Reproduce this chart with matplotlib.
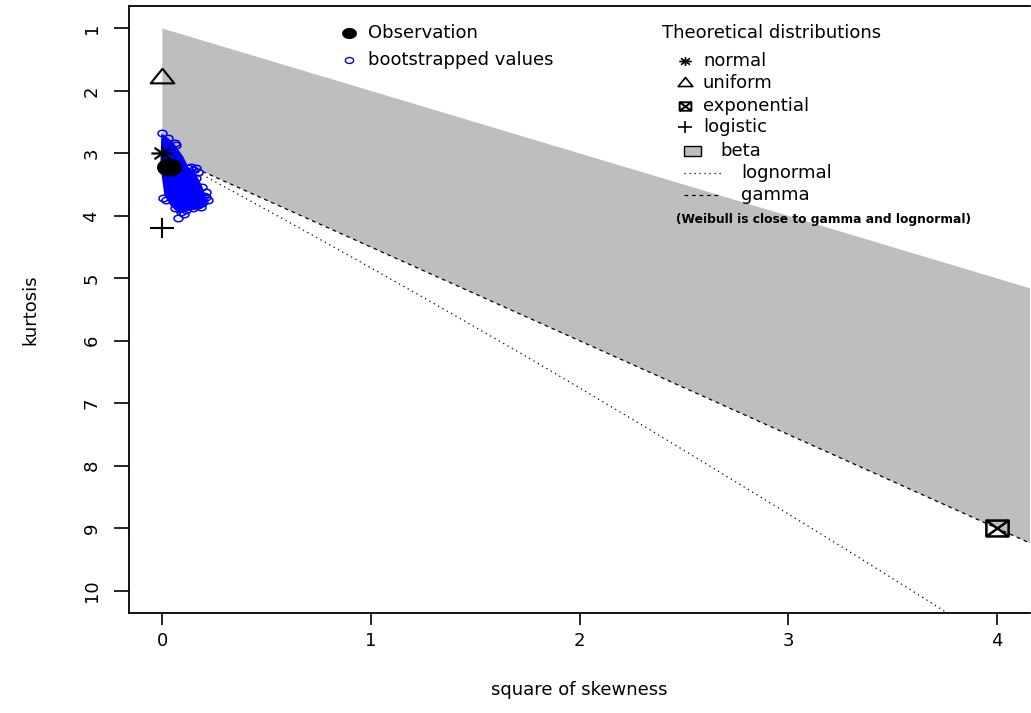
import matplotlib
matplotlib.use("Agg")
import matplotlib.pyplot as plt
import numpy as np
from matplotlib.path import Path
from matplotlib.markers import MarkerStyle
from matplotlib.lines import Line2D
from matplotlib.patches import Rectangle

# ---------------- data (square of skewness, kurtosis) ----------------
obs_x, obs_y = [0.03], [3.22]
normal_x, normal_y = [0.0], [3.0]
uniform_x, uniform_y = [0.0], [1.8]
expo_x, expo_y = [4.0], [9.0]
logis_x, logis_y = [0.0], [4.2]

# beta region (between upper limit and gamma line)
beta_x = [0.0, 4.6, 4.6, 0.0]
beta_y = [1.0, 5.6, 9.9, 3.0]

gamma_x = [0.16, 4.6]
gamma_y = [3.24, 9.9]

lnorm_x = [0.17, 0.229, 0.465, 0.709, 0.961, 1.221, 1.488, 1.764, 2.048,
           2.340, 2.641, 2.950, 3.267, 3.593, 3.928]
lnorm_y = [3.30, 3.41, 3.84, 4.29, 4.76, 5.25, 5.76, 6.29, 6.85,
           7.43, 8.04, 8.67, 9.32, 10.00, 10.71]

# dense part of the bootstrap cloud
cloud_x = [-0.005, 0.03, 0.062, 0.10, 0.125, 0.16, 0.19, 0.215, 0.205, 0.17,
           0.12, 0.08, 0.04, 0.01, -0.01]
cloud_y = [2.68, 2.76, 2.87, 3.05, 3.22, 3.32, 3.52, 3.76, 3.86, 3.90,
           3.92, 3.97, 3.84, 3.68, 3.2]

# scattered bootstrap values on the edge of the cloud
boot_x = [0.0, 0.029, 0.062, 0.067, 0.125, 0.139, 0.149, 0.163, 0.173, 0.163,
          0.188, 0.207, 0.221, 0.197, 0.183, 0.149, 0.115, 0.091, 0.077, 0.062,
          0.019, 0.005, 0.159, 0.139, 0.198, 0.21, 0.17, 0.13, 0.105]
boot_y = [2.67, 2.75, 2.83, 2.87, 3.24, 3.22, 3.27, 3.24, 3.30, 3.39,
          3.54, 3.62, 3.75, 3.78, 3.86, 3.88, 3.91, 3.94, 4.03, 3.88,
          3.75, 3.71, 3.55, 3.46, 3.68, 3.70, 3.82, 3.84, 3.97]

xticks = [0, 1, 2, 3, 4]
yticks = [1, 2, 3, 4, 5, 6, 7, 8, 9, 10]

# ---------------- marker shapes (R pch, slightly wide) ----------------
SQ = 1.4  # horizontal stretch of the original picture

def ellipse_marker():
    t = np.linspace(0, 2 * np.pi, 40)
    return MarkerStyle(Path(np.column_stack([np.cos(t), np.sin(t) / SQ])))

def triangle_marker():
    h = 1.732 / SQ
    v = [(0, 2 * h / 3), (-1, -h / 3), (1, -h / 3), (0, 2 * h / 3)]
    return MarkerStyle(Path(v, [Path.MOVETO, Path.LINETO, Path.LINETO, Path.CLOSEPOLY]))

def star_marker():
    s = 1 / SQ
    d = 0.72
    v = [(-1, 0), (1, 0), (0, -s), (0, s), (-d, -d * s), (d, d * s), (-d, d * s), (d, -d * s)]
    c = [Path.MOVETO, Path.LINETO] * 4
    return MarkerStyle(Path(v, c))

def plus_marker():
    s = 0.87
    v = [(-1, 0), (1, 0), (0, -s), (0, s)]
    return MarkerStyle(Path(v, [Path.MOVETO, Path.LINETO] * 2))

def boxx_marker():
    s = 1 / SQ
    v = [(-1, -s), (1, -s), (1, s), (-1, s), (-1, -s), (-1, -s), (1, s), (-1, s), (1, -s)]
    c = [Path.MOVETO, Path.LINETO, Path.LINETO, Path.LINETO, Path.CLOSEPOLY,
         Path.MOVETO, Path.LINETO, Path.MOVETO, Path.LINETO]
    return MarkerStyle(Path(v, c))

# ---------------- figure ----------------
plt.rcParams['font.family'] = ['DejaVu Sans']
W, H = 1031, 713
fig = plt.figure(figsize=(W / 100, H / 100), dpi=100)
ax = fig.add_axes([129 / W, (H - 613) / H, 901 / W, 607 / H])

ax.fill(beta_x, beta_y, color='#bebebe', lw=0, zorder=1)
ax.plot(gamma_x, gamma_y, color='black', lw=0.9, ls=(0, (3, 3)), zorder=2)
ax.plot(lnorm_x, lnorm_y, color='black', lw=0.9, ls=(0, (1, 3)), zorder=2)

ax.fill(cloud_x, cloud_y, color='#0000ff', lw=0, zorder=3)
ax.plot(boot_x, boot_y, ls='none', marker=ellipse_marker(), ms=6.5,
        mfc='none', mec='#0000ff', mew=1.1, zorder=3)

ax.plot(obs_x, obs_y, ls='none', marker=ellipse_marker(), ms=17,
        mfc='black', mec='black', zorder=4)
ax.plot(normal_x, normal_y, ls='none', marker=star_marker(), ms=16,
        mfc='none', mec='black', mew=1.6, zorder=5)
ax.plot(uniform_x, uniform_y, ls='none', marker=triangle_marker(), ms=17,
        mfc='none', mec='black', mew=1.5, zorder=5)
ax.plot(logis_x, logis_y, ls='none', marker=plus_marker(), ms=17,
        mfc='none', mec='black', mew=1.5, zorder=5)
ax.plot(expo_x, expo_y, ls='none', marker=boxx_marker(), ms=16,
        mfc='none', mec='black', mew=1.8, zorder=5)

ax.set_xlim(-0.16, 4.16)
ax.set_ylim(10.36, 0.64)
ax.set_xticks(xticks)
ax.set_yticks(yticks)
ax.set_yticklabels([str(v) for v in yticks], rotation=90, va='center')
ax.tick_params(axis='x', length=8.5, width=1.2, pad=5, labelsize=13)
ax.tick_params(axis='y', length=10.5, width=1.2, pad=10, labelsize=13)
for side in ['left', 'bottom', 'top']:
    ax.spines[side].set_linewidth(1.3)
ax.spines['right'].set_visible(False)

ax.set_xlabel('square of skewness', fontsize=13, va='center')
ax.xaxis.set_label_coords(0.5, -0.127)
ax.set_ylabel('kurtosis', fontsize=13, va='center')
ax.yaxis.set_label_coords(-0.11, 0.5)

# ---------------- legends (figure pixel positions) ----------------
def fp(x, y):
    return (x / W, 1 - y / H)

def leg_marker(x, y, marker, ms, mfc='none', mec='black', mew=1.2):
    fig.add_artist(Line2D([x / W], [1 - y / H], ls='none', marker=marker, ms=ms,
                          mfc=mfc, mec=mec, mew=mew, transform=fig.transFigure))

def leg_text(x, y, s, size=13, weight='normal'):
    fig.text(*fp(x, y), s, fontsize=size, fontweight=weight, ha='left', va='center')

leg_marker(349, 33, ellipse_marker(), 9.5, mfc='black')
leg_text(368, 33, 'Observation')
leg_marker(349, 60, ellipse_marker(), 6, mec='#0000ff', mew=1.0)
leg_text(368, 60, 'bootstrapped values')

leg_text(662, 33, 'Theoretical distributions')
leg_marker(685, 61, star_marker(), 9)
leg_text(703, 61, 'normal')
leg_marker(685, 83, triangle_marker(), 10.5)
leg_text(703, 83, 'uniform')
leg_marker(685, 106, boxx_marker(), 8.5, mew=1.4)
leg_text(703, 106, 'exponential')
leg_marker(685, 127, plus_marker(), 10.5)
leg_text(703, 127, 'logistic')
fig.add_artist(Rectangle(fp(684, 156), 17 / W, 10 / H, facecolor='#bebebe',
                         edgecolor='black', lw=1.0, transform=fig.transFigure))
leg_text(720, 151, 'beta')
fig.add_artist(Line2D([684 / W, 721 / W], [1 - 173 / H] * 2, color='black', lw=0.9,
                      ls=(0, (1, 3)), transform=fig.transFigure))
leg_text(741, 173, 'lognormal')
fig.add_artist(Line2D([684 / W, 721 / W], [1 - 195 / H] * 2, color='black', lw=0.9,
                      ls=(0, (3, 3)), transform=fig.transFigure))
leg_text(741, 195, 'gamma')
leg_text(676, 220, '(Weibull is close to gamma and lognormal)', size=8.8, weight='bold')

fig.savefig('out.png', dpi=100)
